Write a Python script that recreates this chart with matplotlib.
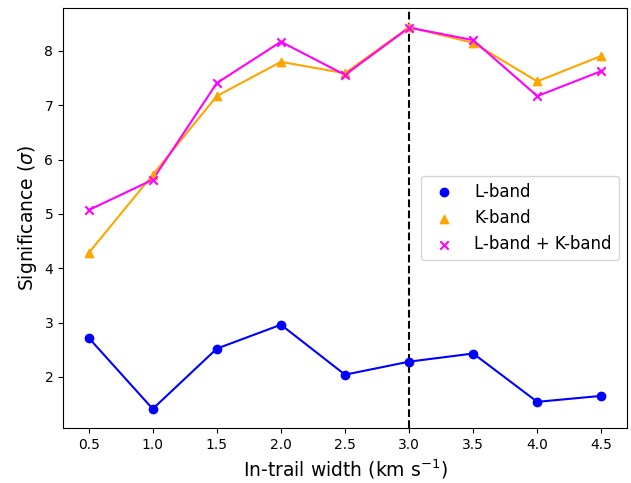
import matplotlib
matplotlib.use("Agg")
import matplotlib.pyplot as plt

widths = [0.5, 1.0, 1.5, 2.0, 2.5, 3.0, 3.5, 4.0, 4.5]
l_band = [2.72, 1.41, 2.52, 2.96, 2.04, 2.28, 2.43, 1.54, 1.65]
k_band = [4.28, 5.72, 7.17, 7.80, 7.59, 8.44, 8.15, 7.44, 7.91]
lk_band = [5.07, 5.63, 7.41, 8.17, 7.56, 8.43, 8.20, 7.17, 7.63]
best_width = 3.0

fig, ax = plt.subplots(figsize=(6.31, 4.83), dpi=100)
ax.plot(widths, l_band, color='blue')
ax.scatter(widths, l_band, color='blue', marker='o', label='L-band', zorder=3)
ax.plot(widths, k_band, color='orange')
ax.scatter(widths, k_band, color='orange', marker='^', label='K-band', zorder=3)
ax.plot(widths, lk_band, color='magenta')
ax.scatter(widths, lk_band, color='magenta', marker='x', label='L-band + K-band', zorder=3)
ax.axvline(best_width, color='black', linestyle='--')
ax.set_xlabel(r'In-trail width (km s$^{-1}$)', fontsize=13.5)
ax.set_ylabel(r'Significance ($\sigma$)', fontsize=13.5)
ax.legend(loc='center right', fontsize=12)
fig.subplots_adjust(left=63/631, right=627/631, top=1-8/483, bottom=1-428/483)
fig.savefig('out.png', dpi=100)
